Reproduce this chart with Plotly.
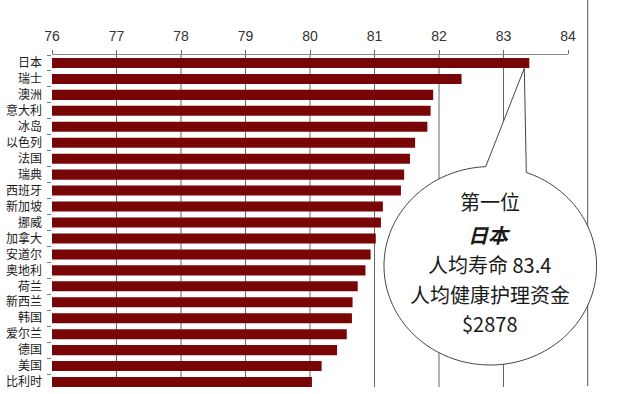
import numpy as np
import plotly.graph_objects as go

countries = ["日本", "瑞士", "澳洲", "意大利", "冰岛", "以色列", "法国", "瑞典", "西班牙",
             "新加坡", "挪威", "加拿大", "安道尔", "奥地利", "荷兰", "新西兰", "韩国",
             "爱尔兰", "德国", "美国", "比利时"]
life_expectancy = [83.40, 82.35, 81.91, 81.87, 81.82, 81.63, 81.55, 81.46, 81.41,
                   81.13, 81.10, 81.02, 80.94, 80.86, 80.74, 80.66, 80.65,
                   80.57, 80.42, 80.18, 80.03]
x_ticks = [76, 77, 78, 79, 80, 81, 82, 83, 84]
callout_lines = ["第一位", "<b><i>日本</i></b>", "人均寿命 83.4", "人均健康护理资金", "$2878"]

W, H = 619, 394
ML, MR, MT, MB = 52, 51, 55, 4
PW = W - ML - MR
PH = H - MT - MB

def px_x(p):
    return (p - ML) / PW

def px_y(p):
    return (H - MB - p) / PH

BAR = "#790606"
CJK = "Noto Sans CJK SC"

fig = go.Figure()
fig.add_trace(go.Bar(
    y=countries, x=life_expectancy, orientation="h",
    marker=dict(color=BAR, line=dict(width=0)),
    hoverinfo="skip",
))

shapes = []
# gridlines (inner ticks only)
for v in x_ticks[1:-1]:
    shapes.append(dict(type="line", xref="x", yref="paper", x0=v, x1=v,
                       y0=px_y(387), y1=1, layer="below",
                       line=dict(color="#666666", width=1)))
# right frame line
shapes.append(dict(type="line", xref="paper", yref="paper",
                   x0=px_x(587.7), x1=px_x(587.7), y0=px_y(386), y1=px_y(0),
                   line=dict(color="#555555", width=1)))

# speech-bubble callout
cx, cy, rx, ry = 490.3, 265.8, 106.3, 99.2
tip = (524.3, 68.3)
t_left = np.degrees(np.arctan2((167.3 - cy) / ry, (485.7 - cx) / rx))
t_right = np.degrees(np.arctan2((173.3 - cy) / ry, (526.0 - cx) / rx))
ts = np.radians(np.linspace(t_right, t_left + 360, 160))
pts = [(cx + rx * np.cos(t), cy + ry * np.sin(t)) for t in ts]
pts.append(tip)
path = "M " + " L ".join(f"{px_x(a):.5f},{px_y(b):.5f}" for a, b in pts) + " Z"
shapes.append(dict(type="path", xref="paper", yref="paper", path=path,
                   fillcolor="white", line=dict(color="#444444", width=1),
                   layer="above"))

annotations = []
line_y = [201.5, 234.5, 264.0, 294.5, 323.5]
for txt, yy in zip(callout_lines, line_y):
    annotations.append(dict(text=txt, xref="paper", yref="paper",
                            x=px_x(489.5), y=px_y(yy), xanchor="center", yanchor="middle",
                            showarrow=False,
                            font=dict(family=CJK, size=20, color="#1a1a1a")))

fig.update_layout(
    width=W, height=H,
    margin=dict(l=ML, r=MR, t=MT, b=MB, pad=0, autoexpand=False),
    paper_bgcolor="white", plot_bgcolor="white",
    showlegend=False,
    bargap=0.37,
    shapes=shapes,
    annotations=annotations,
    xaxis=dict(
        side="top", range=[76, 84], tickvals=x_ticks, automargin=False,
        showgrid=False, zeroline=False,
        showline=True, linecolor="#8a8a8a", linewidth=1,
        ticks="outside", ticklen=4, tickcolor="#6a6a6a", tickwidth=1,
        ticklabelstandoff=3,
        tickfont=dict(family="Liberation Sans, Arial", size=14, color="#333333"),
    ),
    yaxis=dict(
        type="category", range=[20.5, -0.5], automargin=False,
        showgrid=False, zeroline=False, showline=False,
        ticks="outside", tickson="boundaries", ticklen=4,
        tickcolor="#6b7b8b", tickwidth=1,
        ticklabelstandoff=9,
        tickfont=dict(family=CJK, size=12, color="#1a1a1a"),
    ),
)

fig.write_html("out.html", config={"displayModeBar": False},
               post_script="document.body.style.margin='0';document.body.style.overflow='hidden';")
